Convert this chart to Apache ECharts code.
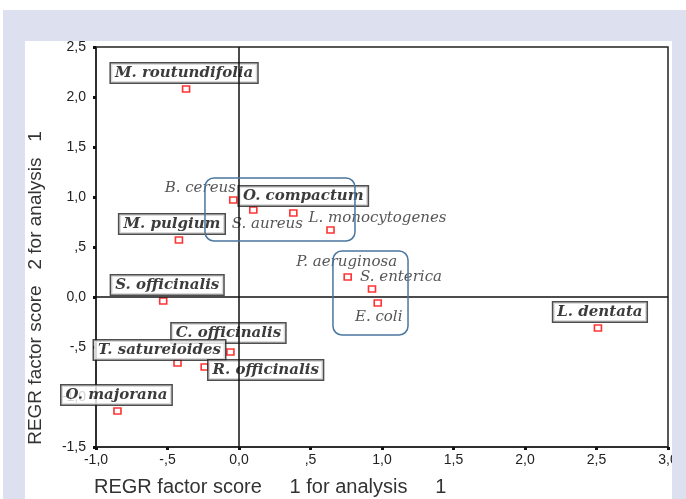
<!DOCTYPE html>
<html>
<head>
<meta charset="utf-8">
<script src="https://cdn.jsdelivr.net/npm/echarts@6/dist/echarts.min.js"></script>
<style>
  html, body { margin: 0; padding: 0; background: #ffffff; }
  #chart { width: 686px; height: 499px; }
</style>
</head>
<body>
<div id="chart"></div>
<script>
// Factor scores: essential oils (boxed labels) and bacterial strains (italic labels)
const names = [
  'M. routundifolia', 'B. cereus', 'O. compactum', 'S. aureus', 'L. monocytogenes',
  'M. pulgium', 'P. aeruginosa', 'S. enterica', 'E. coli', 'S. officinalis',
  'L. dentata', 'C. officinalis', 'T. satureioides', 'R. officinalis', 'O. majorana'
];
const factor1 = [-0.37, -0.04, 0.10, 0.38, 0.64, -0.42, 0.76, 0.93, 0.97, -0.53, 2.51, -0.06, -0.43, -0.24, -0.85];
const factor2 = [2.08, 0.97, 0.87, 0.84, 0.67, 0.57, 0.20, 0.08, -0.06, -0.04, -0.31, -0.55, -0.66, -0.70, -1.14];
const isOil = [true, false, true, false, false, true, false, false, false, true, true, true, true, true, true];

// Rounded groupings drawn around clusters: [x0, y0, x1, y1] in factor-score units
const groupBoxes = [
  [-0.238, 1.19, 0.811, 0.56],
  [0.657, 0.46, 1.182, -0.38]
];

const xTickLabels = ['-1,0', '-,5', '0,0', ',5', '1,0', '1,5', '2,0', '2,5', '3,0'];
const yTickLabels = ['-1,5', '-1,0', '-,5', '0,0', ',5', '1,0', '1,5', '2,0', '2,5'];

// Pixel offsets of each label centre from its marker (label placement only)
const labelOffsets = {
  'M. routundifolia': [-2, -16],
  'B. cereus': [-33, -12],
  'O. compactum': [50, -14],
  'S. aureus': [-26, 11],
  'L. monocytogenes': [47, -12],
  'M. pulgium': [-7, -16],
  'P. aeruginosa': [-1, -15],
  'S. enterica': [29, -12],
  'E. coli': [1, 14],
  'S. officinalis': [4, -16],
  'L. dentata': [2, -16],
  'C. officinalis': [-2, -19],
  'T. satureioides': [-18, -13],
  'R. officinalis': [61, 3],
  'O. majorana': [-1, -16]
};

const boxedLabel = {
  fontFamily: 'DejaVu Serif',
  fontStyle: 'italic',
  fontWeight: 'bold',
  fontSize: 15,
  lineHeight: 16,
  color: '#0a0a0a',
  backgroundColor: '#ffffff',
  borderColor: '#222222',
  borderWidth: 1.5,
  padding: [2, 4, 1, 4]
};
const plainLabel = {
  fontFamily: 'DejaVu Serif',
  fontStyle: 'italic',
  fontWeight: 'normal',
  fontSize: 15,
  color: '#2a2a2a'
};

const points = names.map((n, i) => ({
  name: n,
  value: [factor1[i], factor2[i]],
  label: Object.assign({
    show: true,
    position: 'inside',
    align: 'center',
    verticalAlign: 'middle',
    offset: labelOffsets[n],
    formatter: '{b}'
  }, isOil[i] ? boxedLabel : plainLabel)
}));

const xMin = -1, xStep = 0.5, yMin = -1.5, yStep = 0.5;
const tickFont = { fontFamily: 'Liberation Sans', fontSize: 14, color: '#222222' };
const titleFont = { fontFamily: 'Liberation Sans', fill: '#333333' };

const chart = echarts.init(document.getElementById('chart'), null, { renderer: 'canvas' });
chart.setOption({
  animation: false,
  backgroundColor: '#ffffff',
  graphic: [
    { type: 'rect', z: -10, shape: { x: 3, y: 10, width: 683, height: 489 }, style: { fill: '#dde0ee' } },
    { type: 'rect', z: -9, shape: { x: 25, y: 41, width: 647, height: 458 }, style: { fill: '#ffffff' } },
    { type: 'rect', z: 100, shape: { x: 672, y: 10, width: 14, height: 489 }, style: { fill: '#dde0ee' } },
    {
      type: 'text', z: 5, left: 94, top: 477,
      style: Object.assign({ text: 'REGR factor score     1 for analysis     1', fontSize: 20 }, titleFont)
    },
    {
      type: 'text', z: 5, x: 26, y: 288, rotation: Math.PI / 2,
      style: Object.assign({ text: 'REGR factor score   2 for analysis   1', fontSize: 19, align: 'center', verticalAlign: 'top' }, titleFont)
    }
  ],
  grid: {
    left: 96, right: 18, top: 47, bottom: 52,
    show: true, borderColor: '#222222', borderWidth: 1.5, backgroundColor: 'transparent'
  },
  xAxis: {
    type: 'value', min: xMin, max: 3, interval: xStep,
    axisLine: { show: true, onZero: false, lineStyle: { color: '#222222', width: 1.5 } },
    axisTick: { show: true, length: 3, lineStyle: { color: '#111111', width: 3 } },
    splitLine: { show: false },
    axisLabel: Object.assign({
      margin: 6,
      formatter: v => xTickLabels[Math.round((v - xMin) / xStep)]
    }, tickFont)
  },
  yAxis: {
    type: 'value', min: yMin, max: 2.5, interval: yStep,
    axisLine: { show: true, onZero: false, lineStyle: { color: '#222222', width: 1.5 } },
    axisTick: { show: true, length: 3, lineStyle: { color: '#111111', width: 3 } },
    splitLine: { show: false },
    axisLabel: Object.assign({
      margin: 10,
      formatter: v => yTickLabels[Math.round((v - yMin) / yStep)]
    }, tickFont)
  },
  series: [
    {
      type: 'scatter',
      z: 3,
      symbol: 'rect',
      symbolSize: [7, 6],
      itemStyle: { color: '#ffffff', borderColor: '#ff0000', borderWidth: 1.5 },
      emphasis: { disabled: true },
      data: points
    },
    {
      type: 'custom',
      z: 6,
      silent: true,
      clip: false,
      encode: { x: [0, 2], y: [1, 3] },
      data: groupBoxes,
      renderItem: (params, api) => {
        const a = api.coord([api.value(0), api.value(1)]);
        const b = api.coord([api.value(2), api.value(3)]);
        return {
          type: 'rect',
          shape: {
            x: Math.min(a[0], b[0]), y: Math.min(a[1], b[1]),
            width: Math.abs(b[0] - a[0]), height: Math.abs(b[1] - a[1]), r: 9
          },
          style: { fill: 'none', stroke: '#4a76a0', lineWidth: 1.5 }
        };
      },
      markLine: {
        silent: true,
        symbol: 'none',
        label: { show: false },
        lineStyle: { color: '#111111', width: 1.5, type: 'solid' },
        data: [{ xAxis: 0 }, { yAxis: 0 }]
      }
    }
  ]
});
</script>
</body>
</html>
